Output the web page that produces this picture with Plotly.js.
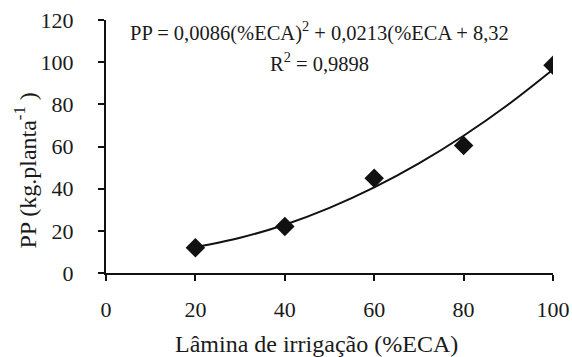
<!DOCTYPE html>
<html><head><meta charset="utf-8">
<script src="https://cdn.plot.ly/plotly-3.0.1.min.js"></script>
<style>html,body{margin:0;padding:0;background:#fff}</style>
</head><body>
<div id="chart" style="width:572px;height:357px"></div>
<script>
// Observed data
const lamina = [20, 40, 60, 80, 100];
const pp = [12, 22, 45, 60.5, 98.5];
// Fitted trend curve
const fitX = [20, 30, 40, 50, 60, 70, 80, 90, 100];
const fitY = [12.2, 16.7, 22.9, 30.9, 40.6, 52.0, 65.1, 79.9, 96.5];
const xTicks = [0, 20, 40, 60, 80, 100];
const yTicks = [0, 20, 40, 60, 80, 100, 120];
const eqText = "PP = 0,0086(%ECA)<sup>2</sup> + 0,0213(%ECA + 8,32";
const r2Text = "R<sup>2</sup> = 0,9898";
const xTitle = "Lâmina de irrigação (%ECA)";
const yTitle = "PP (kg.planta<sup>-1</sup> )";

const font = {family: "Liberation Serif", color: "#1a1a1a"};
const f = s => Object.assign({size: s}, font);

const traces = [
  {x: fitX, y: fitY, mode: "lines", line: {shape: "spline", color: "#111", width: 2}, hoverinfo: "skip"},
  {x: lamina, y: pp, mode: "markers", marker: {symbol: "diamond", size: 15, color: "#111"}}
];

const layout = {
  width: 572, height: 357,
  margin: {l: 106, r: 19, t: 20, b: 84},
  showlegend: false,
  paper_bgcolor: "#fff", plot_bgcolor: "#fff",
  font: f(20),
  xaxis: {
    range: [0, 100], tickvals: xTicks, ticktext: xTicks.map(String),
    showgrid: false, zeroline: false, showline: true, linecolor: "#111", linewidth: 2,
    ticks: "outside", ticklen: 6, tickwidth: 2, tickcolor: "#111",
    ticklabelstandoff: 10,
    tickfont: f(22)
  },
  yaxis: {
    range: [0, 120], tickvals: yTicks, ticktext: yTicks.map(String),
    showgrid: false, zeroline: false, showline: true, linecolor: "#111", linewidth: 2,
    ticks: "outside", ticklen: 6, tickwidth: 2, tickcolor: "#111",
    ticklabelstandoff: 20,
    tickfont: f(22)
  },
  annotations: [
    {xref: "paper", yref: "paper", x: 0.477, y: 0.955, text: eqText, showarrow: false,
     xanchor: "center", yanchor: "middle", font: f(20.5)},
    {xref: "paper", yref: "paper", x: 0.477, y: 0.835, text: r2Text, showarrow: false,
     xanchor: "center", yanchor: "middle", font: f(20.5)},
    {xref: "paper", yref: "paper", x: 0.472, y: -0.28, text: xTitle, showarrow: false,
     xanchor: "center", yanchor: "middle", font: f(24)},
    {xref: "paper", yref: "paper", x: -0.18, y: 0.403, text: yTitle, showarrow: false,
     textangle: -90, xanchor: "center", yanchor: "middle", font: f(24)}
  ]
};

Plotly.newPlot("chart", traces, layout, {displayModeBar: false, staticPlot: true});
</script>
</body></html>
